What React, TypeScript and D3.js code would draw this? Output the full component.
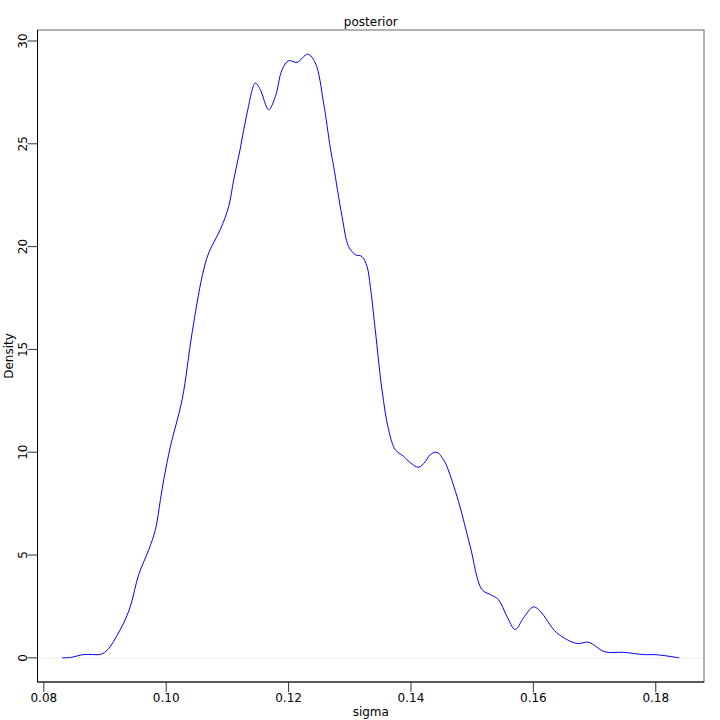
import React from "react";
import * as d3 from "d3";

const sigmaValues = [
  0.08300, 0.08436, 0.08653, 0.08795, 0.08910, 0.08991, 0.09089, 0.09187, 0.09306, 0.09415,
  0.09551, 0.09715, 0.09824, 0.09906, 0.09960, 0.10069, 0.10260, 0.10423, 0.10587, 0.10694,
  0.10885, 0.11021, 0.11103, 0.11212, 0.11321, 0.11457, 0.11538, 0.11674, 0.11784, 0.11893,
  0.12001, 0.12138, 0.12311, 0.12437, 0.12572, 0.12682, 0.12736, 0.12873, 0.12980, 0.13090,
  0.13199, 0.13281, 0.13335, 0.13416, 0.13526, 0.13634, 0.13743, 0.13879, 0.13988, 0.14123,
  0.14233, 0.14314, 0.14424, 0.14531, 0.14587, 0.14776, 0.14967, 0.15159, 0.15294, 0.15430,
  0.15567, 0.15703, 0.15838, 0.16001, 0.16111, 0.16383, 0.16710, 0.16899, 0.17172, 0.17471,
  0.17797, 0.18016, 0.18385,
];
const densityValues = [
  0.0, 0.02, 0.16, 0.16, 0.16, 0.26, 0.56, 1.04, 1.70, 2.51,
  4.05, 5.26, 6.24, 7.70, 8.67, 10.29, 12.56, 15.81, 18.55, 19.69,
  20.84, 21.95, 23.25, 24.79, 26.49, 27.95, 27.63, 26.66, 27.30, 28.60,
  29.04, 28.96, 29.36, 28.93, 26.98, 24.79, 23.90, 21.47, 20.01, 19.61,
  19.52, 19.04, 18.07, 15.96, 13.04, 11.10, 10.13, 9.80, 9.49, 9.27,
  9.54, 9.88, 10.00, 9.64, 9.31, 7.61, 5.43, 3.32, 3.08, 2.83,
  2.02, 1.38, 1.94, 2.48, 2.27, 1.22, 0.70, 0.76, 0.29, 0.27,
  0.16, 0.15, 0.0,
];
const xTicks = [0.08, 0.1, 0.12, 0.14, 0.16, 0.18];
const yTicks = [0, 5, 10, 15, 20, 25, 30];
const title = "posterior";
const xLabel = "sigma";
const yLabel = "Density";

export default function App() {
  const left = 37.5, right = 704, top = 30, bottom = 682;
  const xMin = d3.min(sigmaValues)!, xMax = d3.max(sigmaValues)!;
  const yMin = 0, yMax = d3.max(densityValues)!;
  const xPad = (xMax - xMin) * 0.04;
  const yPad = (yMax - yMin) * 0.04;
  const x = d3.scaleLinear().domain([xMin - xPad, xMax + xPad]).range([left, right]);
  const y = d3.scaleLinear().domain([yMin - yPad, yMax + yPad]).range([bottom, top]);
  const pts = sigmaValues.map((s, i) => [s, densityValues[i]] as [number, number]);
  const line = d3
    .line<[number, number]>()
    .x((d) => x(d[0]))
    .y((d) => y(d[1]))
    .curve(d3.curveCatmullRom.alpha(0.5));
  const font = "DejaVu Sans, sans-serif";
  return (
    <svg
      width={720}
      height={720}
      style={{ position: "absolute", left: 0, top: 0, background: "white" }}
      fontFamily={font}
      fontSize={12}
    >
      <rect x={0} y={0} width={720} height={720} fill="white" />
      <line x1={left} x2={right} y1={y(0)} y2={y(0)} stroke="#f0f0f0" strokeWidth={1} />
      <path d={line(pts) || ""} fill="none" stroke="blue" strokeWidth={1} />
      <rect x={left} y={top} width={right - left} height={bottom - top} fill="none" stroke="#666" strokeWidth={1} />
      <line x1={left} x2={left} y1={top} y2={bottom} stroke="black" />
      <line x1={left} x2={right} y1={bottom} y2={bottom} stroke="black" />
      {xTicks.map((t) => (
        <g key={"x" + t}>
          <line x1={x(t)} x2={x(t)} y1={bottom} y2={bottom + 10} stroke="#333" />
          <text x={x(t)} y={701.5} textAnchor="middle" fill="black">
            {t.toFixed(2)}
          </text>
        </g>
      ))}
      {yTicks.map((t) => (
        <g key={"y" + t}>
          <line x1={left - 10} x2={left} y1={y(t)} y2={y(t)} stroke="#333" />
          <text
            transform={`translate(26.5,${y(t)}) rotate(-90)`}
            textAnchor="middle"
            fill="black"
          >
            {t}
          </text>
        </g>
      ))}
      <text x={(left + right) / 2} y={26} textAnchor="middle" fill="black">
        {title}
      </text>
      <text x={(left + right) / 2} y={716} textAnchor="middle" fill="black">
        {xLabel}
      </text>
      <text transform={`translate(13,${(top + bottom) / 2}) rotate(-90)`} textAnchor="middle" fill="black">
        {yLabel}
      </text>
    </svg>
  );
}
